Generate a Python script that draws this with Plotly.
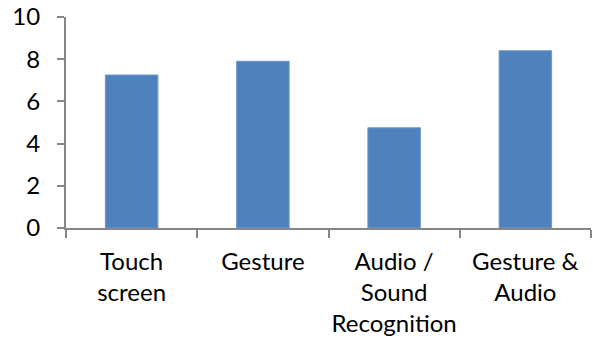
import plotly.graph_objects as go

categories = ["Touch<br>screen", "Gesture", "Audio /<br>Sound<br>Recognition", "Gesture &<br>Audio"]
scores = [7.25, 7.9, 4.75, 8.4]
y_ticks = [0, 2, 4, 6, 8, 10]

axis_color = "#868686"
font = dict(family="Lato, Calibri, sans-serif", size=23, color="#000000")

fig = go.Figure(
    go.Bar(
        x=categories,
        y=scores,
        marker=dict(color="#4F81BD", line=dict(color="#6d97c9", width=1)),
        width=0.4,
    )
)

fig.update_layout(
    width=593,
    height=343,
    margin=dict(l=66, r=2, t=17, b=115),
    paper_bgcolor="white",
    plot_bgcolor="white",
    font=font,
    showlegend=False,
)

fig.update_xaxes(
    type="category",
    showline=True,
    linecolor=axis_color,
    linewidth=2,
    ticks="outside",
    tickson="boundaries",
    ticklen=8,
    tickwidth=2,
    tickcolor=axis_color,
    showgrid=False,
    tickangle=0,
    tickfont=dict(size=24),
    ticklabelstandoff=11,
)

fig.update_yaxes(
    range=[0, 10],
    tickvals=y_ticks,
    showline=True,
    linecolor=axis_color,
    linewidth=2,
    ticks="outside",
    ticklen=7,
    tickwidth=2,
    tickcolor=axis_color,
    showgrid=False,
    zeroline=False,
    tickfont=dict(size=24),
    ticklabelstandoff=12,
)

fig.write_html("out.html")
